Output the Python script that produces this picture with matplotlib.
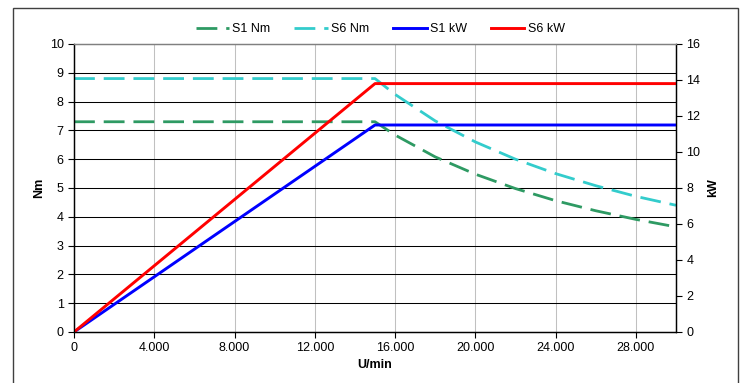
import numpy as np
import matplotlib
matplotlib.use("Agg")
import matplotlib.pyplot as plt
from matplotlib.patches import Rectangle
from matplotlib.ticker import FuncFormatter

plt.rcParams['font.family'] = ['Liberation Sans', 'DejaVu Sans']
plt.rcParams['font.size'] = 9

# speed points (U/min)
speed_nm = [0, 15000, 16000, 18000, 20000, 22000, 24000, 26000, 28000, 30000]
s1_nm = [7.3, 7.3, 6.84, 6.08, 5.48, 4.98, 4.56, 4.21, 3.91, 3.65]
s6_nm = [8.8, 8.8, 8.25, 7.33, 6.6, 6.0, 5.5, 5.08, 4.71, 4.4]

speed_kw = [0, 15000, 30000]
s1_kw = [0, 11.5, 11.5]
s6_kw = [0, 13.8, 13.8]

x_ticks = [0, 4000, 8000, 12000, 16000, 20000, 24000, 28000]

fig = plt.figure(figsize=(7.45, 3.83), dpi=100)
ax = fig.add_axes([74/745, 1-332/383, (676-74)/745, (332-44)/383])
ax2 = ax.twinx()

# rahmen um das diagramm
fig.patches.append(Rectangle((12.5/745, -0.05), (737.5-12.5)/745, 1.05 - 8/383,
                             transform=fig.transFigure, fill=False,
                             edgecolor='#404040', lw=1.0, clip_on=False))

ax.set_xlim(0, 30000)
ax.set_ylim(0, 10)
ax2.set_ylim(0, 16)
ax.set_xticks(x_ticks)
ax.set_yticks(range(0, 11))
ax2.set_yticks(range(0, 17, 2))
ax.xaxis.set_major_formatter(FuncFormatter(lambda v, p: f"{int(v):,}".replace(",", ".")))

# gitter
for v in x_ticks[1:]:
    ax.axvline(v, color='#c0c0c0', lw=0.75, zorder=0)
for v in range(1, 10):
    ax.axhline(v, color='black', lw=0.75, zorder=0)

dash = (7.5, 3.2)
l1, = ax.plot(speed_nm, s1_nm, color='#2e9a63', lw=2.0, dashes=dash, label='S1 Nm')
l2, = ax.plot(speed_nm, s6_nm, color='#33cccc', lw=2.0, dashes=dash, label='S6 Nm')
l3, = ax2.plot(speed_kw, s1_kw, color='#0000ff', lw=2.1, label='S1 kW')
l4, = ax2.plot(speed_kw, s6_kw, color='#ff0000', lw=2.1, label='S6 kW')

for a in (ax, ax2):
    for s in a.spines.values():
        s.set_color('black')
        s.set_linewidth(0.9)
    a.spines['top'].set_color('#808080')
    a.tick_params(direction='out', length=4, width=0.8, colors='black', labelsize=9)

ax.set_xlabel('U/min', fontweight='bold', fontsize=9, labelpad=3)
ax.set_ylabel('Nm', fontweight='bold', fontsize=9, labelpad=3)
ax2.set_ylabel('kW', fontweight='bold', fontsize=9, labelpad=5)

fig.legend(handles=[l1, l2, l3, l4], loc='center', bbox_to_anchor=(380/745, 1-29/383),
           ncol=4, frameon=False, fontsize=9, handlelength=2.7, columnspacing=1.9,
           handletextpad=0.25)

fig.savefig('out.png', dpi=100)
